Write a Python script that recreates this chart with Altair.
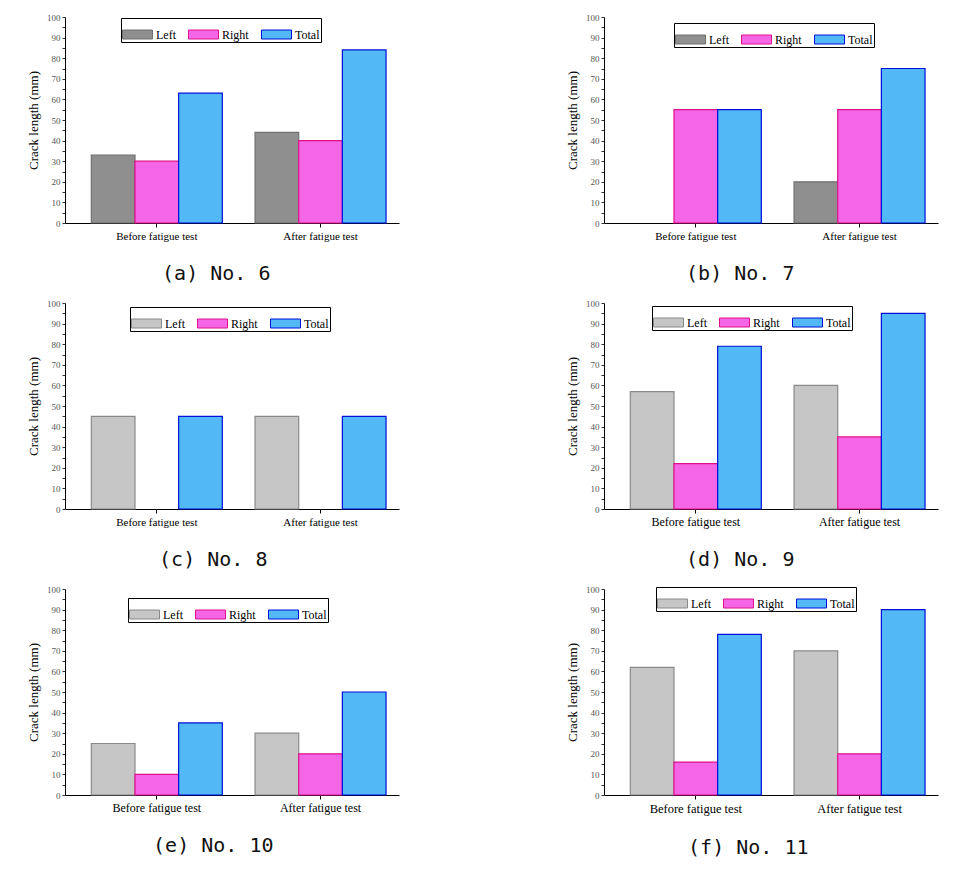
import altair as alt
import pandas as pd

groups = ["Before fatigue test", "After fatigue test"]
series = ["Left", "Right", "Total"]
captions = ["(a) No. 6", "(b) No. 7", "(c) No. 8", "(d) No. 9", "(e) No. 10", "(f) No. 11"]
left_vals = [[33, 44], [0, 20], [45, 45], [57, 60], [25, 30], [62, 70]]
right_vals = [[30, 40], [55, 55], [0, 0], [22, 35], [10, 20], [16, 20]]
total_vals = [[63, 84], [55, 75], [45, 45], [79, 95], [35, 50], [78, 90]]
y_ticks = list(range(0, 101, 5))

left_fill = ["#8f8f8f", "#8f8f8f", "#c6c6c6", "#c6c6c6", "#c6c6c6", "#c6c6c6"]
left_stroke = ["#707070", "#707070", "#8a8a8a", "#8a8a8a", "#8a8a8a", "#8a8a8a"]
legend_x = [56, 70, 65, 48, 63, 52]
legend_y = [1, 6, 4, 3, 9, -2]
xlabel_size = [11, 11, 11, 12, 12, 12.5]
caption_dx = [3, -12, 0, -12, 0, -4]

SERIF = "Liberation Serif"


def panel(i):
    rows = []
    for s, vals in zip(series, [left_vals[i], right_vals[i], total_vals[i]]):
        for g, v in zip(groups, vals):
            rows.append({"group": g, "series": s, "value": v})
    df = pd.DataFrame(rows)
    leg = alt.Legend(
        title=None, orient="none", legendX=legend_x[i], legendY=legend_y[i],
        direction="horizontal", strokeColor="black", fillColor="white",
        padding=1, symbolType="M-1,-0.3H1V0.3H-1Z", symbolSize=900,
        symbolStrokeWidth=1, symbolOpacity=1, labelFont=SERIF, labelFontSize=12,
        labelColor="black", labelOffset=3, columnPadding=10,
    )
    return alt.Chart(
        df,
        title=alt.TitleParams(
            captions[i], orient="bottom", anchor="middle", frame="bounds",
            font="DejaVu Sans Mono", fontSize=20, fontWeight="normal",
            color="#111", offset=23, dx=caption_dx[i],
        ),
    ).transform_filter("datum.value > 0").mark_bar(strokeWidth=1.2, opacity=1).encode(
        x=alt.X(
            "group:N", sort=groups,
            scale=alt.Scale(domain=groups, paddingInner=0.2, paddingOuter=0.12, align=0.67),
            axis=alt.Axis(title=None, labelAngle=0, labelFont=SERIF,
                          labelFontSize=xlabel_size[i], labelColor="black",
                          tickSize=4, tickColor="black", domainColor="black",
                          labelPadding=3),
        ),
        xOffset=alt.XOffset("series:N", sort=series,
                            scale=alt.Scale(domain=series, paddingInner=0, paddingOuter=0)),
        y=alt.Y(
            "value:Q", scale=alt.Scale(domain=[0, 100], nice=False),
            axis=alt.Axis(title="Crack length (mm)", values=y_ticks,
                          labelExpr="datum.value % 10 === 0 ? datum.label : ''",
                          labelFont=SERIF, labelFontSize=9, labelColor="#555",
                          tickSize=3, tickColor="#333", domainColor="black",
                          titleFont=SERIF, titleFontSize=13, titleFontWeight="normal",
                          titleColor="black", titlePadding=6),
        ),
        fill=alt.Fill("series:N", sort=series,
                      scale=alt.Scale(domain=series,
                                      range=[left_fill[i], "#f466e6", "#52b8f6"]),
                      legend=leg),
        stroke=alt.Stroke("series:N", sort=series,
                          scale=alt.Scale(domain=series,
                                          range=[left_stroke[i], "#e0108a", "#0010d8"]),
                          legend=leg),
    ).properties(width=334, height=206)


panels = [panel(i) for i in range(6)]
rows = [
    alt.hconcat(panels[2 * r], panels[2 * r + 1], spacing=167)
    .resolve_scale(fill="independent", stroke="independent", x="independent", y="independent")
    .resolve_legend(fill="independent", stroke="independent")
    for r in range(3)
]
chart = (
    alt.vconcat(*rows, spacing=15)
    .resolve_scale(fill="independent", stroke="independent", x="independent", y="independent")
    .resolve_legend(fill="independent", stroke="independent")
    .properties(padding={"left": 27, "top": 13, "right": 5, "bottom": 5},
                background="white")
    .configure_axis(grid=False)
    .configure_view(stroke=None)
)
chart.save("out.html", embed_options={"renderer": "svg", "actions": False})
